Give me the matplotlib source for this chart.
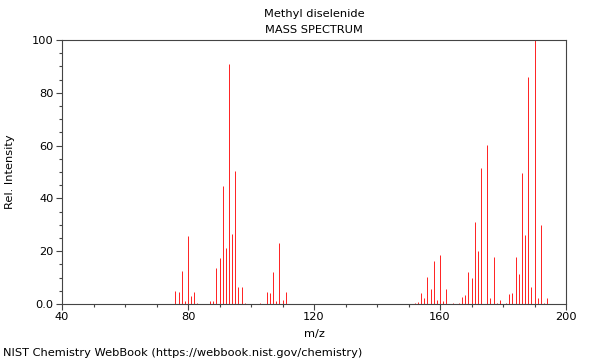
import numpy as np
import matplotlib
matplotlib.use('Agg')
import matplotlib.pyplot as plt
from matplotlib.ticker import MultipleLocator, FuncFormatter

# peaks (m/z, relative intensity)
mz = [76, 77, 78, 79, 80, 81, 82, 83,
      87, 88, 89, 90, 91, 92, 93, 94, 95, 96, 97, 98,
      103, 105, 106, 107, 108, 109, 110, 111,
      152, 153, 154, 155, 156, 157, 158, 159, 160, 161, 162, 164,
      166, 167, 168, 169, 170, 171, 172, 173, 175, 176, 177, 178, 179,
      181, 182, 183, 184, 185, 186, 187, 188, 189, 190, 191, 192, 193, 194]
intensity = [5.1, 4.4, 12.5, 1.3, 25.7, 2.9, 4.7, 0.4,
             1.0, 1.0, 13.5, 17.3, 44.7, 21.4, 90.9, 26.6, 50.3, 6.3, 6.5, 0.3,
             0.3, 4.4, 4.1, 12.2, 1.0, 23.2, 1.6, 4.4,
             0.5, 0.8, 4.0, 2.3, 10.1, 5.7, 16.4, 1.5, 18.4, 1.3, 5.8, 0.3,
             0.5, 2.5, 3.5, 12.2, 9.7, 31.2, 19.9, 51.5, 60.4, 2.1, 17.9, 0.5, 1.5,
             0.5, 3.9, 4.3, 17.8, 11.5, 49.6, 26.3, 86.1, 6.6, 100.0, 2.3, 30.0, 0.5, 2.4]

compound = 'Methyl diselenide'
fs = 8.2

fig = plt.figure(figsize=(6, 3.6), dpi=100)
ax = fig.add_axes([62/600, 56/360, 504/600, 264/360])

ax.vlines(mz, 0, intensity, colors='#ff2020', linewidth=0.7)

ax.set_xlim(40, 200)
ax.set_ylim(0, 100)
ax.xaxis.set_major_locator(MultipleLocator(40))
ax.xaxis.set_minor_locator(MultipleLocator(10))
ax.yaxis.set_major_locator(MultipleLocator(20))
ax.yaxis.set_minor_locator(MultipleLocator(5))
ax.yaxis.set_major_formatter(FuncFormatter(lambda v, p: '0.0' if v == 0 else '%d' % v))

for s in ax.spines.values():
    s.set_color('#444444')
    s.set_linewidth(0.8)
ax.tick_params(which='major', length=4, width=0.8, color='#444444', labelsize=fs, pad=2)
ax.tick_params(which='minor', length=2.5, width=0.8, color='#444444')

ax.set_xlabel('m/z', fontsize=fs, labelpad=5)
ax.set_ylabel('Rel. Intensity', fontsize=fs, labelpad=12)

fig.text(314/600, 1 - 14/360, compound, ha='center', va='center', fontsize=fs)
fig.text(314/600, 1 - 30/360, 'MASS SPECTRUM', ha='center', va='center', fontsize=fs)
fig.text(3/600, 1 - 353/360, 'NIST Chemistry WebBook (https://webbook.nist.gov/chemistry)',
         ha='left', va='center', fontsize=fs)

fig.savefig('out.png', dpi=100)
